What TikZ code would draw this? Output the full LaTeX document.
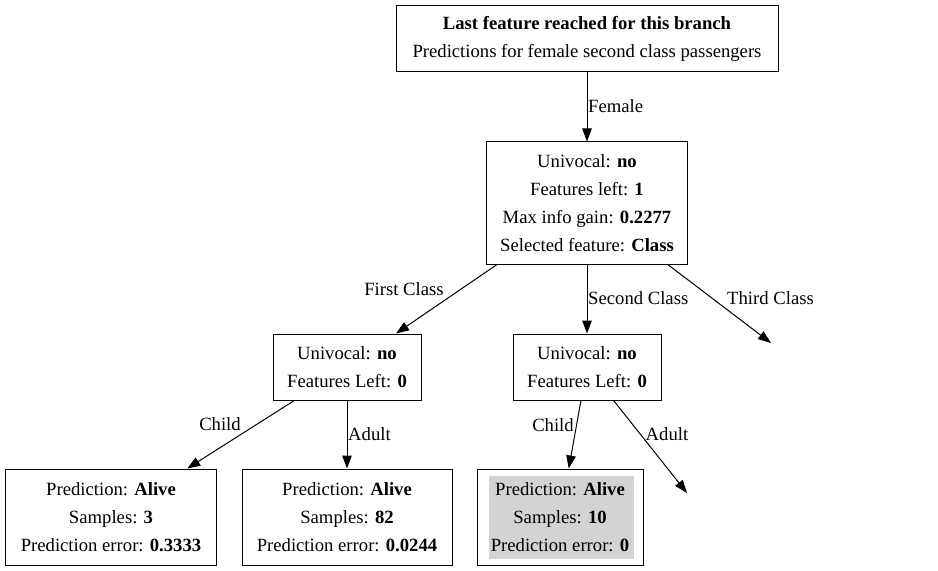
\documentclass[tikz,border=0pt]{standalone}
\usepackage{fontspec}
\setmainfont{Liberation Serif}
\usetikzlibrary{arrows.meta}
\definecolor{lgrey}{RGB}{211,211,211}
\begin{document}
\begin{tikzpicture}[x=1bp,y=-1bp,
  box/.style={draw, line width=1bp, inner sep=0pt, align=center,
    font=\fontsize{18.67bp}{28bp}\selectfont},
  lbl/.style={inner sep=0pt, font=\fontsize{18.67bp}{22bp}\selectfont},
  edge/.style={line width=1bp, -{Triangle[length=13bp,width=9.5bp]}}]
\useasboundingbox (0,0) rectangle (938,571);
\node[box, minimum width=382bp, minimum height=66bp] (top) at (587,39)
  {\textbf{Last feature reached for this branch}\\ Predictions for female second class passengers};
\node[box, minimum width=201bp, minimum height=122bp] (mid) at (587,203)
  {Univocal: \textbf{no}\\ Features left: \textbf{1}\\ Max info gain: \textbf{0.2277}\\ Selected feature: \textbf{Class}};
\node[box, minimum width=148bp, minimum height=66bp] (l1) at (347,367)
  {Univocal: \textbf{no}\\ Features Left: \textbf{0}};
\node[box, minimum width=148bp, minimum height=66bp] (r1) at (587,367)
  {Univocal: \textbf{no}\\ Features Left: \textbf{0}};
\node[box, minimum width=210bp, minimum height=96bp] (b1) at (111,517)
  {Prediction: \textbf{Alive}\\ Samples: \textbf{3}\\ Prediction error: \textbf{0.3333}};
\node[box, minimum width=210bp, minimum height=96bp] (b2) at (347,517)
  {Prediction: \textbf{Alive}\\ Samples: \textbf{82}\\ Prediction error: \textbf{0.0244}};
\fill[lgrey] (489,476) rectangle (634,559);
\node[box, minimum width=166bp, minimum height=96bp] (b3) at (560,517)
  {Prediction: \textbf{Alive}\\ Samples: \textbf{10}\\ Prediction error: \textbf{0}};
\coordinate (t3) at (771,343);
\coordinate (a2) at (687,493);
\draw[edge] (top) -- (mid);
\draw[edge] (mid) -- (l1);
\draw[edge] (mid) -- (r1);
\draw[edge] (mid) -- (t3);
\draw[edge] (l1) -- (b1);
\draw[edge] (l1) -- (b2);
\draw[edge] (r1) -- (b3);
\draw[edge] (r1) -- (a2);
\node[lbl, anchor=west] (lfemale) at (588,106) {Female};
\node[lbl] (lfirst) at (404,289) {First Class};
\node[lbl, anchor=west] (lsecond) at (588,298) {Second Class};
\node[lbl, anchor=west] (lthird) at (727,298) {Third Class};
\node[lbl] (lchild1) at (220,424) {Child};
\node[lbl, anchor=west] (ladult1) at (348,434) {Adult};
\node[lbl] (lchild2) at (553,425) {Child};
\node[lbl] (ladult2) at (667,434) {Adult};
\end{tikzpicture}
\end{document}
